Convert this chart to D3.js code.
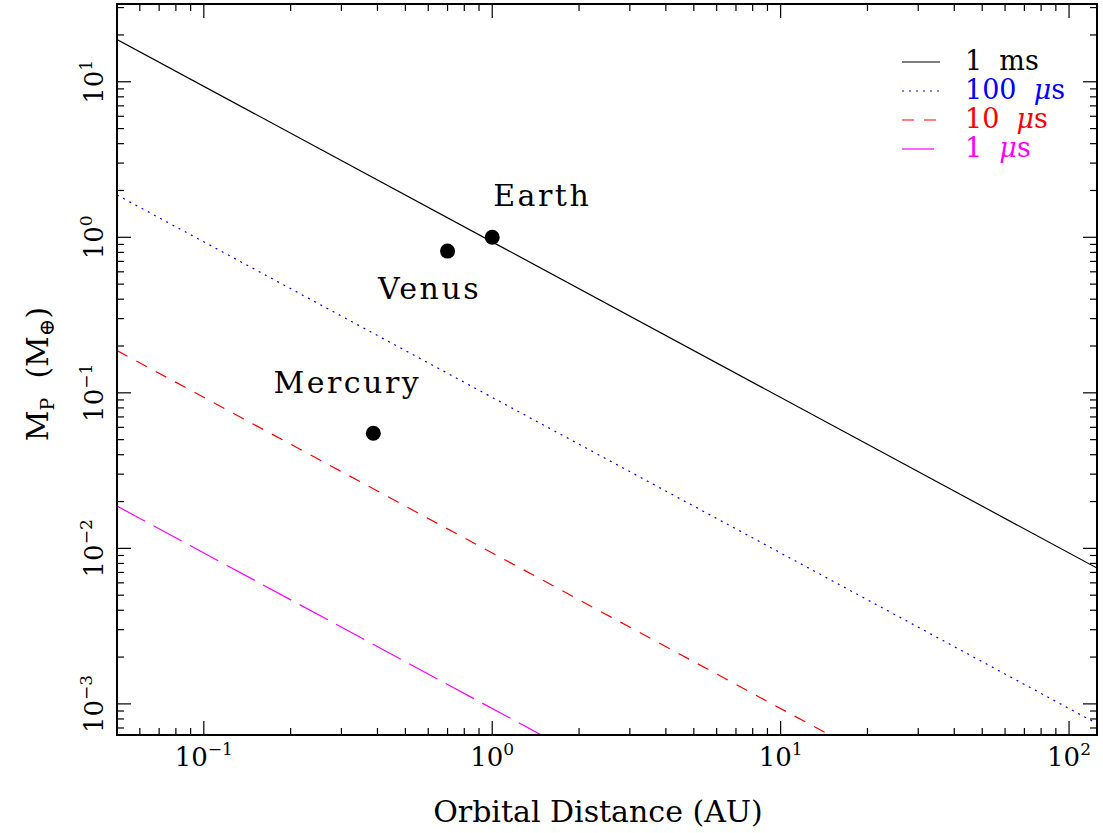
<!DOCTYPE html>
<html>
<head>
<meta charset="utf-8">
<script src="https://cdn.jsdelivr.net/npm/d3@7"></script>
<style>
  body { margin: 0; background: #fff; }
  text { font-family: "DejaVu Serif", serif; }
</style>
</head>
<body>
<svg id="chart" width="1103" height="833"></svg>
<script>
// Chart data.
var X_DOMAIN = [0.05, 125];
var Y_DOMAIN = [Math.pow(10, -3.2), Math.pow(10, 1.5)];
var X_TICK_EXP = [-1, 0, 1, 2];
var Y_TICK_EXP = [-3, -2, -1, 0, 1];

// timing curves: name, color, dash, and two end points [a, M]
var curveNames = ['1 ms', '100 μs', '10 μs', '1 μs'];
var curveColors = ['#000000', '#0000ff', '#ff0000', '#ff00ff'];
var curveDashes = [null, '2,5', '12,10', '32,9.5'];
var curveStart = [[0.05, 18.7], [0.05, 1.87], [0.05, 0.187], [0.05, 0.0187]];
var curveEnd = [[125, 0.00747], [125, 0.000747], [14.7, 0.000635], [1.47, 0.000635]];

// planets
var planetNames = ['Mercury', 'Venus', 'Earth'];
var planetA = [0.387, 0.70, 1.0];
var planetM = [0.055, 0.815, 1.0];

// Layout.
var PLOT_LEFT = 117, PLOT_RIGHT = 1097, PLOT_TOP = 4, PLOT_BOTTOM = 735;
var MAJOR_TICK = 14, MINOR_TICK = 7;
var LABEL_OFFSETS = [[-26, -40, 'middle'], [-18, 48, 'middle'], [1, -31, 'start']];

var svg = d3.select('#chart');

var x = d3.scaleLog().domain(X_DOMAIN).range([PLOT_LEFT, PLOT_RIGHT]);
var y = d3.scaleLog().domain(Y_DOMAIN).range([PLOT_BOTTOM, PLOT_TOP]);

/**
 * logTicks
 * Returns all 1..9 x 10^k values inside the domain.
 */
var logTicks = function(domain) {
  var out = [];
  var lo = Math.floor(Math.log10(domain[0])), hi = Math.ceil(Math.log10(domain[1]));
  for (var k = lo; k <= hi; k++) {
    for (var m = 1; m < 10; m++) {
      var v = m * Math.pow(10, k);
      if (v >= domain[0] * 0.9999 && v <= domain[1] * 1.0001) out.push({v: v, major: m === 1});
    }
  }
  return out;
};

svg.append('clipPath').attr('id', 'plot-clip')
  .append('rect')
  .attr('x', PLOT_LEFT).attr('y', PLOT_TOP)
  .attr('width', PLOT_RIGHT - PLOT_LEFT).attr('height', PLOT_BOTTOM - PLOT_TOP);

// Curves.
var line = d3.line().x(function(d) { return x(d[0]); }).y(function(d) { return y(d[1]); });
var curves = curveNames.map(function(n, i) {
  return {name: n, color: curveColors[i], dash: curveDashes[i], pts: [curveStart[i], curveEnd[i]]};
});

svg.append('g').attr('clip-path', 'url(#plot-clip)')
  .selectAll('path')
  .data(curves)
  .enter()
  .append('path')
  .attr('d', function(d) { return line(d.pts); })
  .attr('fill', 'none')
  .attr('stroke', function(d) { return d.color; })
  .attr('stroke-width', 1.2)
  .attr('stroke-dasharray', function(d) { return d.dash; });

// Planets.
var planets = planetNames.map(function(n, i) { return {name: n, a: planetA[i], m: planetM[i], off: LABEL_OFFSETS[i]}; });
var pg = svg.append('g');
pg.selectAll('circle')
  .data(planets)
  .enter()
  .append('circle')
  .attr('cx', function(d) { return x(d.a); })
  .attr('cy', function(d) { return y(d.m); })
  .attr('r', 7.5)
  .attr('fill', '#000');
pg.selectAll('text')
  .data(planets)
  .enter()
  .append('text')
  .text(function(d) { return d.name; })
  .attr('x', function(d) { return x(d.a) + d.off[0]; })
  .attr('y', function(d) { return y(d.m) + d.off[1]; })
  .attr('text-anchor', function(d) { return d.off[2]; })
  .attr('font-size', 30)
  .attr('letter-spacing', 2.5)
  .attr('fill', '#000');

// Frame and ticks.
var axes = svg.append('g').attr('stroke', '#000');
var xt = logTicks(X_DOMAIN), yt = logTicks(Y_DOMAIN);
xt.forEach(function(t) {
  var len = t.major ? MAJOR_TICK : MINOR_TICK, px = x(t.v);
  axes.append('line').attr('x1', px).attr('x2', px).attr('y1', PLOT_BOTTOM).attr('y2', PLOT_BOTTOM - len).attr('stroke-width', 1.2);
  axes.append('line').attr('x1', px).attr('x2', px).attr('y1', PLOT_TOP).attr('y2', PLOT_TOP + len).attr('stroke-width', 1.2);
});
yt.forEach(function(t) {
  var len = t.major ? MAJOR_TICK : MINOR_TICK, py = y(t.v);
  axes.append('line').attr('y1', py).attr('y2', py).attr('x1', PLOT_LEFT).attr('x2', PLOT_LEFT + len).attr('stroke-width', 1.2);
  axes.append('line').attr('y1', py).attr('y2', py).attr('x1', PLOT_RIGHT).attr('x2', PLOT_RIGHT - len).attr('stroke-width', 1.2);
});
axes.append('rect')
  .attr('x', PLOT_LEFT).attr('y', PLOT_TOP)
  .attr('width', PLOT_RIGHT - PLOT_LEFT).attr('height', PLOT_BOTTOM - PLOT_TOP)
  .attr('fill', 'none').attr('stroke-width', 2);

// Tick labels: 10 with superscript exponent.
var powLabel = function(sel) {
  sel.append('tspan').text('10');
  sel.append('tspan')
    .attr('font-size', 17)
    .attr('dy', -11)
    .text(function(d) { return d < 0 ? '\u2212' + (-d) : d; });
};

svg.append('g').selectAll('text')
  .data(X_TICK_EXP)
  .enter()
  .append('text')
  .attr('x', function(d) { return x(Math.pow(10, d)); })
  .attr('y', 766)
  .attr('text-anchor', 'middle')
  .attr('font-size', 26)
  .call(powLabel);

svg.append('g').selectAll('text')
  .data(Y_TICK_EXP)
  .enter()
  .append('text')
  .attr('transform', function(d) { return 'translate(103,' + y(Math.pow(10, d)) + ') rotate(-90)'; })
  .attr('text-anchor', 'middle')
  .attr('font-size', 26)
  .call(powLabel);

// Axis titles.
svg.append('text')
  .attr('x', 598).attr('y', 822)
  .attr('text-anchor', 'middle')
  .attr('font-size', 30)
  .text('Orbital Distance (AU)');

var yl = svg.append('text')
  .attr('transform', 'translate(48,374) rotate(-90)')
  .attr('text-anchor', 'middle')
  .attr('font-size', 30);
yl.append('tspan').text('M');
yl.append('tspan').attr('font-size', 19).attr('dy', 6).text('P');
yl.append('tspan').attr('dy', -6).text('\u00a0\u00a0(M');
yl.append('tspan').attr('font-size', 21).attr('dy', 6).text('\u2295');
yl.append('tspan').attr('dy', -6).text(')');

// Legend.
var lg = svg.append('g').selectAll('g')
  .data(curves)
  .enter()
  .append('g')
  .attr('transform', function(d, i) { return 'translate(0,' + (62 + i * 29) + ')'; });
lg.append('line')
  .attr('x1', 902).attr('x2', 940)
  .attr('stroke', function(d) { return d.color; })
  .attr('stroke-width', 1.2)
  .attr('stroke-dasharray', function(d) { return d.dash; });
lg.append('text')
  .attr('x', 965).attr('y', 8)
  .attr('font-size', 27)
  .attr('fill', function(d) { return d.color; })
  .each(function(d) {
    var parts = d.name.split(' ');
    var t = d3.select(this);
    t.append('tspan').text(parts[0] + '\u00a0\u00a0');
    if (parts[1].charAt(0) === 'μ') {
      t.append('tspan').attr('font-style', 'italic').text('μ');
      t.append('tspan').text(parts[1].slice(1));
    } else {
      t.append('tspan').text(parts[1]);
    }
  });
</script>
</body>
</html>
